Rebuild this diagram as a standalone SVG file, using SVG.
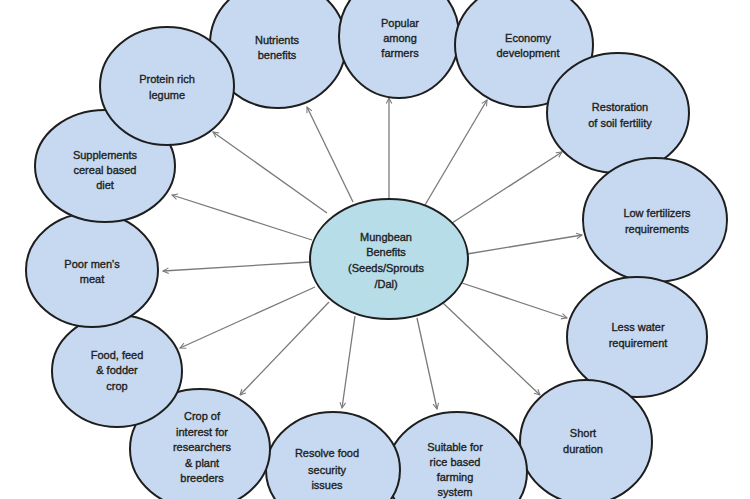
<svg xmlns="http://www.w3.org/2000/svg" width="750" height="499" viewBox="0 0 750 499">
<style>
.n{fill:#c6d9f0;stroke:#1e1e1e;stroke-width:2}
.c{fill:#b7dde8;stroke:#1e1e1e;stroke-width:2}
text{font-family:"Liberation Sans",Arial,sans-serif;font-size:11px;fill:#1e1e1e;stroke:#1e1e1e;stroke-width:0.35;text-anchor:middle}
.a{stroke:#7a7a7a;stroke-width:1.3;fill:none;marker-end:url(#ah)}
</style>
<defs>
<marker id="ah" viewBox="0 0 10 10" refX="9" refY="5" markerWidth="7" markerHeight="7" markerUnits="userSpaceOnUse" orient="auto">
<path d="M1,1 L9,5 L1,9" fill="none" stroke="#7a7a7a" stroke-width="1.5"/>
</marker>
</defs>
<rect width="750" height="499" fill="#fff"/>
<g id="connectors">
<line class="a" x1="327" y1="213" x2="213" y2="132"/>
<line class="a" x1="353" y1="202" x2="307" y2="107"/>
<line class="a" x1="312" y1="240" x2="172" y2="195"/>
<line class="a" x1="389" y1="199" x2="389" y2="98"/>
<line class="a" x1="425" y1="205" x2="487" y2="100"/>
<line class="a" x1="452" y1="223" x2="562" y2="152"/>
<line class="a" x1="467" y1="254" x2="582" y2="235"/>
<line class="a" x1="310" y1="262" x2="163" y2="271"/>
<line class="a" x1="315" y1="287" x2="180" y2="348"/>
<line class="a" x1="329" y1="302" x2="240" y2="395"/>
<line class="a" x1="355" y1="316" x2="342" y2="408"/>
<line class="a" x1="462" y1="283" x2="567" y2="318"/>
<line class="a" x1="443" y1="303" x2="540" y2="395"/>
<line class="a" x1="417" y1="318" x2="437" y2="409"/>
</g>
<g id="nutrients"><ellipse class="n" cx="278" cy="44" rx="68" ry="64"/><text x="277" y="44">Nutrients</text><text x="277" y="59">benefits</text></g>
<g id="popular"><ellipse class="n" cx="399" cy="36" rx="60" ry="62"/><text x="400" y="27">Popular</text><text x="400" y="42">among</text><text x="400" y="57">farmers</text></g>
<g id="economy"><ellipse class="n" cx="524" cy="45" rx="69" ry="62"/><text x="528" y="42">Economy</text><text x="528" y="57">development</text></g>
<g id="restoration"><ellipse class="n" cx="618" cy="113" rx="71" ry="60"/><text x="620" y="111">Restoration</text><text x="620" y="127">of soil fertility</text></g>
<g id="lowfert"><ellipse class="n" cx="655" cy="220" rx="72" ry="62"/><text x="657" y="217">Low fertilizers</text><text x="657" y="233">requirements</text></g>
<g id="lesswater"><ellipse class="n" cx="637" cy="337" rx="70" ry="60"/><text x="638" y="331">Less water</text><text x="638" y="347">requirement</text></g>
<g id="short"><ellipse class="n" cx="586" cy="442" rx="66" ry="62"/><text x="583" y="437">Short</text><text x="583" y="453">duration</text></g>
<g id="suitable"><ellipse class="n" cx="457" cy="472" rx="70" ry="60"/><text x="455" y="451">Suitable for</text><text x="455" y="466">rice based</text><text x="455" y="481">farming</text><text x="455" y="496">system</text></g>
<g id="resolve"><ellipse class="n" cx="333" cy="470" rx="67" ry="58"/><text x="327" y="457">Resolve food</text><text x="327" y="474">security</text><text x="327" y="489">issues</text></g>
<g id="crop"><ellipse class="n" cx="200" cy="449" rx="70" ry="60"/><text x="202" y="420">Crop of</text><text x="202" y="436">interest for</text><text x="202" y="451">researchers</text><text x="202" y="467">&amp; plant</text><text x="202" y="482">breeders</text></g>
<g id="food"><ellipse class="n" cx="117" cy="371" rx="65" ry="56"/><text x="117" y="359">Food, feed</text><text x="117" y="374">&amp; fodder</text><text x="117" y="390">crop</text></g>
<g id="poor"><ellipse class="n" cx="92" cy="270" rx="66" ry="57"/><text x="92" y="268">Poor men's</text><text x="92" y="283">meat</text></g>
<g id="supplements"><ellipse class="n" cx="105" cy="166" rx="70" ry="56"/><text x="105" y="159">Supplements</text><text x="105" y="174">cereal based</text><text x="105" y="189">diet</text></g>
<g id="protein"><ellipse class="n" cx="167" cy="86" rx="67" ry="59"/><text x="167" y="83">Protein rich</text><text x="167" y="99">legume</text></g>
<g id="center"><ellipse class="c" cx="389" cy="259" rx="79" ry="60"/><text x="386" y="241">Mungbean</text><text x="386" y="256">Benefits</text><text x="386" y="272">(Seeds/Sprouts</text><text x="386" y="288">/Dal)</text></g>
</svg>
